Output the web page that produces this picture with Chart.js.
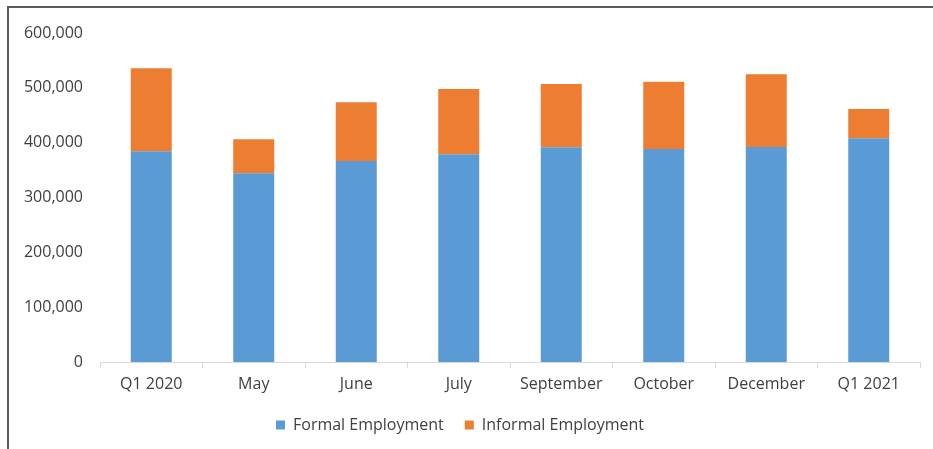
<!DOCTYPE html>
<html lang="en">
<head>
  <meta charset="UTF-8" />
  <title>Formal and Informal Employment</title>
  <script src="https://cdn.jsdelivr.net/npm/chart.js"></script>
  <style>
    body {
      margin: 0;
      background: #fff;
      overflow: hidden;
      font-family: 'Open Sans', sans-serif;
    }
    .frame {
      position: absolute;
      left: 7px;
      top: 6px;
      width: 960px;
      height: 480px;
      border: 2px solid #5a5a5a;
    }
    .wrap {
      position: absolute;
      left: 0;
      top: 0;
      width: 933px;
      height: 449px;
    }
  </style>
</head>
<body>
  <div class="frame"></div>
  <div class="wrap"><canvas id="empChart"></canvas></div>

  <script>
    const periods = ["Q1 2020", "May", "June", "July", "September", "October", "December", "Q1 2021"];
    const formal = [384300, 344100, 366600, 378800, 391600, 388500, 392100, 408000];
    const informal = [151300, 62100, 107000, 119100, 115400, 122700, 132600, 53400];
    const yTicks = [0, 100000, 200000, 300000, 400000, 500000, 600000];

    const textColor = "#404040";
    const labelFont = { family: "'Open Sans'", size: 16 };

    const ctx = document.getElementById("empChart").getContext("2d");
    const empChart = new Chart(ctx, {
      type: "bar",
      data: {
        labels: periods,
        datasets: [{
          label: "Formal Employment",
          data: formal,
          backgroundColor: "#5b9bd5",
          barPercentage: 0.4,
          categoryPercentage: 1
        }, {
          label: "Informal Employment",
          data: informal,
          backgroundColor: "#ed7d31",
          barPercentage: 0.4,
          categoryPercentage: 1
        }]
      },
      options: {
        responsive: true,
        maintainAspectRatio: false,
        animation: false,
        layout: {
          padding: { top: 33, right: 13, bottom: 6, left: 0 }
        },
        plugins: {
          tooltip: { enabled: false },
          legend: {
            position: "bottom",
            labels: {
              color: textColor,
              font: labelFont,
              boxWidth: 9,
              boxHeight: 9,
              padding: 21
            }
          }
        },
        scales: {
          x: {
            stacked: true,
            grid: {
              drawOnChartArea: false,
              color: "#d9d9d9",
              tickLength: 6
            },
            border: { color: "#d9d9d9" },
            ticks: {
              color: textColor,
              font: labelFont,
              padding: 7,
              maxRotation: 0
            },
            afterFit: (scale) => { scale.height = 34; }
          },
          y: {
            stacked: true,
            min: yTicks[0],
            max: yTicks[yTicks.length - 1],
            grid: { display: false },
            border: { display: false },
            afterBuildTicks: (scale) => {
              scale.ticks = yTicks.map(v => ({ value: v }));
            },
            ticks: {
              color: textColor,
              font: labelFont,
              padding: 9,
              callback: (v) => v.toLocaleString("en-US")
            },
            afterFit: (scale) => { scale.width = 100; }
          }
        }
      }
    });
  </script>
</body>
</html>
